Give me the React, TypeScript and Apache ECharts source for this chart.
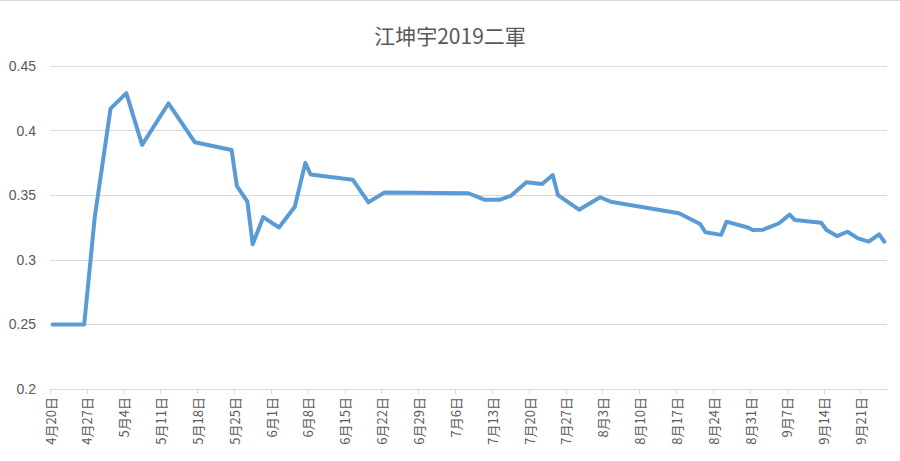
import React, { useEffect, useRef } from "react";
import * as echarts from "echarts";

const titleText = "江坤宇2019二軍";

const dates = [
  "4/20", "4/26", "4/28", "5/1", "5/4", "5/7", "5/12", "5/17", "5/24", "5/25",
  "5/27", "5/28", "5/30", "6/2", "6/5", "6/7", "6/8", "6/16", "6/19", "6/22",
  "7/8", "7/11", "7/14", "7/16", "7/19", "7/22", "7/24", "7/25", "7/29", "8/2",
  "8/4", "8/17", "8/21", "8/22", "8/25", "8/26", "8/29", "8/30", "8/31", "9/2",
  "9/5", "9/7", "9/8", "9/13", "9/14", "9/16", "9/18", "9/20", "9/22", "9/24",
  "9/25",
];

const values = [
  0.25, 0.25, 0.333, 0.417, 0.429, 0.389, 0.421, 0.391, 0.385, 0.357,
  0.345, 0.312, 0.333, 0.325, 0.341, 0.375, 0.366, 0.362, 0.3445, 0.352,
  0.3515, 0.3465, 0.3465, 0.3494, 0.36, 0.3587, 0.3656, 0.35, 0.3388, 0.3484,
  0.345, 0.336, 0.3277, 0.3213, 0.3193, 0.3295, 0.3262, 0.3251, 0.3231, 0.3233,
  0.3283, 0.335, 0.3308, 0.3287, 0.3231, 0.3184, 0.3217, 0.3166, 0.314, 0.3197,
  0.314,
];

const tickDates = [
  "4/20", "4/27", "5/4", "5/11", "5/18", "5/25", "6/1", "6/8", "6/15", "6/22",
  "6/29", "7/6", "7/13", "7/20", "7/27", "8/3", "8/10", "8/17", "8/24", "8/31",
  "9/7", "9/14", "9/21",
];

const startDate = "4/20";
const endDate = "9/26";
const yTicks = [0.2, 0.25, 0.3, 0.35, 0.4, 0.45];

const DAY = 86400000;
function toUTC(md: string) {
  const [m, d] = md.split("/").map(Number);
  return Date.UTC(2019, m - 1, d);
}
function dayIndex(md: string) {
  return Math.round((toUTC(md) - toUTC(startDate)) / DAY);
}
function dayLabel(v: number) {
  const dt = new Date(toUTC(startDate) + Math.round(v) * DAY);
  return `${dt.getUTCMonth() + 1}月${dt.getUTCDate()}日`;
}

export default function App() {
  const ref = useRef<HTMLDivElement>(null);

  useEffect(() => {
    if (!ref.current) return;
    const chart = echarts.init(ref.current, undefined, { renderer: "svg" });
    const tickVals = tickDates.map(dayIndex);
    const data = dates.map((d, i) => [dayIndex(d) + 0.5, values[i]]);
    const grey = "#595959";
    const gridCol = "#d9d9d9";
    const cjk = "'Noto Sans CJK TC', 'Noto Sans CJK SC', sans-serif";

    chart.setOption({
      animation: false,
      backgroundColor: "#ffffff",
      title: {
        text: titleText,
        left: "center",
        top: 19,
        textStyle: {
          fontSize: 21,
          color: grey,
          fontWeight: "normal",
          fontFamily: cjk,
        },
      },
      graphic: [
        {
          type: "line",
          shape: { x1: 0, y1: 0.5, x2: 900, y2: 0.5 },
          style: { stroke: "#d9d9d9", lineWidth: 1 },
          silent: true,
        },
      ],
      grid: { left: 50, right: 13, top: 66, bottom: 72, containLabel: false },
      xAxis: {
        type: "value",
        min: 0,
        max: dayIndex(endDate),
        interval: 7,
        axisLine: { show: true, lineStyle: { color: gridCol, width: 1 } },
        axisTick: {
          show: true,
          length: 5,
          customValues: tickVals,
          lineStyle: { color: gridCol },
        },
        splitLine: { show: false },
        axisLabel: {
          customValues: tickVals,
          rotate: 90,
          margin: 8,
          fontSize: 13,
          color: grey,
          fontFamily: cjk,
          formatter: (v: number) => dayLabel(v),
        },
      },
      yAxis: {
        type: "value",
        min: yTicks[0],
        max: yTicks[yTicks.length - 1],
        interval: 0.05,
        axisLine: { show: false },
        axisTick: { show: false },
        splitLine: { show: true, lineStyle: { color: gridCol, width: 1 } },
        axisLabel: {
          fontSize: 14,
          color: grey,
          margin: 14,
          fontFamily: "'Liberation Sans', 'Open Sans', sans-serif",
          formatter: (v: number) => String(Math.round(v * 100) / 100),
        },
      },
      series: [
        {
          type: "line",
          data,
          showSymbol: false,
          symbol: "none",
          lineStyle: { color: "#5B9BD5", width: 4, join: "round", cap: "round" },
          itemStyle: { color: "#5B9BD5" },
        },
      ],
    });

    return () => chart.dispose();
  }, []);

  return (
    <div
      ref={ref}
      style={{ position: "fixed", left: 0, top: 0, width: 900, height: 461 }}
    />
  );
}
